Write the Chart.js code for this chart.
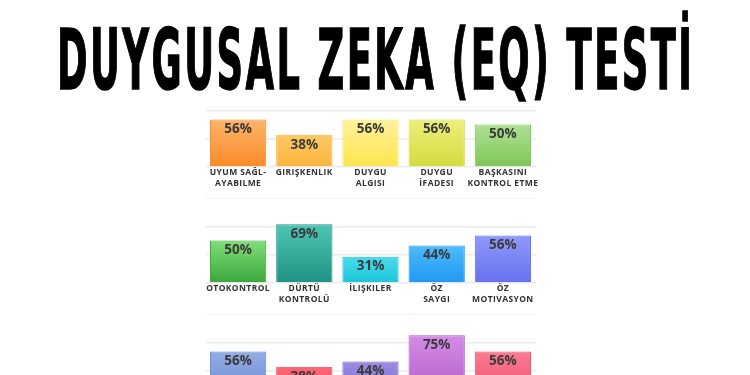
<!DOCTYPE html>
<html lang="tr">
<head>
<meta charset="UTF-8">
<title>Duygusal Zeka (EQ) Testi</title>
<script src="https://cdn.jsdelivr.net/npm/chart.js"></script>
<style>
  html, body { margin: 0; padding: 0; width: 750px; height: 375px; overflow: hidden; background: #fff; }
  .baslik { position: absolute; left: 0; top: 0; width: 750px; height: 100px; background: #fff; z-index: 2; }
  .baslik span {
    position: absolute; left: 57px; top: 18px;
    font-family: "DejaVu Sans Condensed", "DejaVu Sans", sans-serif;
    font-weight: bold; font-size: 84px; line-height: 84px; letter-spacing: 5px;
    white-space: nowrap; color: #000; transform-origin: 0 0;
    -webkit-text-stroke: 1.5px #000;
  }
  .satir { position: absolute; left: 195px; width: 351px; height: 115px; }
</style>
</head>
<body>

<div class="baslik"><span id="baslikYazi">DUYGUSAL ZEKA (EQ) TESTİ</span></div>

<div class="satir" style="top:82px"><canvas id="grafik1"></canvas></div>
<div class="satir" style="top:198px"><canvas id="grafik2"></canvas></div>
<div class="satir" style="top:314px"><canvas id="grafik3"></canvas></div>

<script>
// veriler
const satir1Etiketler = [["UYUM SAĞL-", "AYABILME"], "GIRIŞKENLIK", ["DUYGU", "ALGISI"], ["DUYGU", "İFADESI"], ["BAŞKASINI", "KONTROL ETME"]];
const satir1Degerler = [56, 38, 56, 56, 50];

const satir2Etiketler = ["OTOKONTROL", ["DÜRTÜ", "KONTROLÜ"], "İLIŞKILER", ["ÖZ", "SAYGI"], ["ÖZ", "MOTIVASYON"]];
const satir2Degerler = [50, 69, 31, 44, 56];

// 3. satırın etiketleri görüntüde kesik, görünmüyor
const satir3Etiketler = ["EMPATI", "STRES", "SOSYAL", "MUTLULUK", "İYIMSERLIK"];
const satir3Degerler = [56, 38, 44, 75, 56];

// renkler (üst, alt)
const satir1Renk = [["#fdb56c", "#f98a26"], ["#fdc862", "#fbb53e"], ["#fef29c", "#fde54c"], ["#ecef7c", "#d4db3e"], ["#afe196", "#7ec555"]];
const satir2Renk = [["#82df7a", "#39a63b"], ["#4ec5b3", "#1f9383"], ["#4cdcec", "#1cc3d8"], ["#4ebcfa", "#2097f2"], ["#9299fa", "#6670ee"]];
const satir3Renk = [["#93ade5", "#6c88d2"], ["#fb6676", "#f1475b"], ["#9c8ce1", "#7a68cc"], ["#d68ce7", "#ae5bc5"], ["#fb7c93", "#ed4d6b"]];

// başlığı genişliğe sığdır (son harfin boşluğu hariç)
const baslik = document.getElementById('baslikYazi');
const genislik = baslik.getBoundingClientRect().width - 5;
baslik.style.transform = 'scaleX(' + (635 / genislik) + ')';

// çubuk içindeki yüzde yazısı + etiket harf aralığı
const yuzdeEtiketi = {
    id: 'yuzdeEtiketi',
    beforeDraw(chart) {
        chart.ctx.letterSpacing = '0.4px';
    },
    afterDatasetsDraw(chart) {
        const c = chart.ctx;
        const meta = chart.getDatasetMeta(0);
        c.save();
        c.letterSpacing = '0px';
        c.font = 'bold 13.5px "Open Sans"';
        c.fillStyle = '#3b3b3b';
        c.textAlign = 'center';
        c.textBaseline = 'middle';
        meta.data.forEach((bar, i) => {
            c.fillText(chart.data.datasets[0].data[i] + '%', bar.x, bar.y + 10);
        });
        c.restore();
    }
};

function grafikCiz(id, etiketler, degerler, renkler) {
    const ctx = document.getElementById(id).getContext('2d');
    return new Chart(ctx, {
        type: 'bar',
        data: {
            labels: etiketler,
            datasets: [{
                data: degerler,
                backgroundColor: (c) => {
                    const chart = c.chart;
                    const r = renkler[c.dataIndex];
                    if (!chart.chartArea || c.type !== 'data') return r[1];
                    const y = chart.scales.y;
                    const g = chart.ctx.createLinearGradient(0, y.getPixelForValue(c.raw), 0, y.getPixelForValue(0));
                    g.addColorStop(0, r[0]);
                    g.addColorStop(1, r[1]);
                    return g;
                },
                borderColor: renkler.map(r => r[1]),
                borderWidth: 1,
                barPercentage: 0.85,
                categoryPercentage: 1
            }]
        },
        options: {
            responsive: true,
            maintainAspectRatio: false,
            animation: false,
            layout: { padding: { left: 10, right: 10, top: 0, bottom: 0 } },
            plugins: { legend: { display: false }, tooltip: { enabled: false } },
            scales: {
                x: {
                    grid: { display: false, drawTicks: false },
                    border: { display: false },
                    ticks: {
                        color: '#333333',
                        font: { family: '"Open Sans"', size: 8.5, weight: 'bold', lineHeight: 1.3 },
                        padding: 0,
                        maxRotation: 0,
                        autoSkip: false
                    },
                    afterFit(axis) { axis.height = 30; }
                },
                y: {
                    min: 0,
                    max: 100,
                    ticks: { display: false, count: 4 },
                    grid: { color: '#ececec', lineWidth: 1.5, drawTicks: false },
                    border: { display: false }
                }
            }
        },
        plugins: [yuzdeEtiketi]
    });
}

grafikCiz('grafik1', satir1Etiketler, satir1Degerler, satir1Renk);
grafikCiz('grafik2', satir2Etiketler, satir2Degerler, satir2Renk);
grafikCiz('grafik3', satir3Etiketler, satir3Degerler, satir3Renk);
</script>

</body>
</html>
